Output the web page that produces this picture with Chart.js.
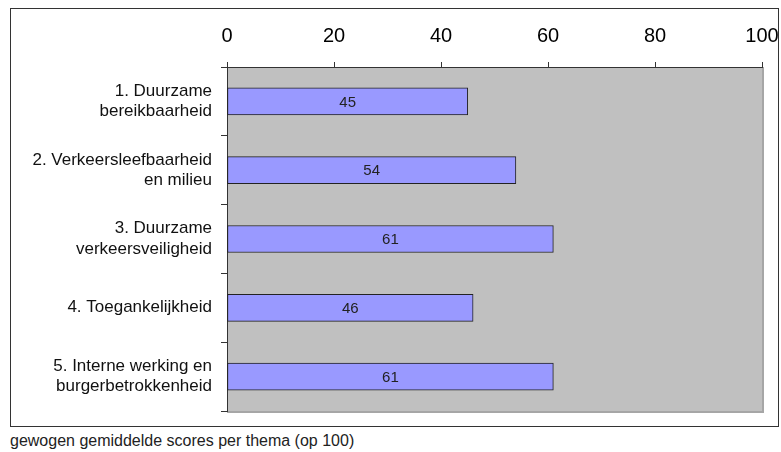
<!DOCTYPE html>
<html>
<head>
<meta charset="utf-8">
<script src="https://cdn.jsdelivr.net/npm/chart.js@4"></script>
<style>
  body { margin: 0; background: #fff; font-family: "Liberation Sans", Arial, sans-serif; }
  #box { position: absolute; left: 10px; top: 8px; width: 767px; height: 417px; border: 1px solid #333; }
  #wrap { position: absolute; left: 0; top: 0; width: 767px; height: 417px; }
  #caption { position: absolute; left: 10px; top: 432px; font-size: 16px; color: #222; white-space: nowrap; }
</style>
</head>
<body>
<div id="box"><div id="wrap"><canvas id="scores"></canvas></div></div>
<div id="caption">gewogen gemiddelde scores per thema (op 100)</div>
<script>
// gewogen gemiddelde scores per thema
var themes = [
  ["1. Duurzame", "bereikbaarheid"],
  ["2. Verkeersleefbaarheid", "en milieu"],
  ["3. Duurzame", "verkeersveiligheid"],
  ["4. Toegankelijkheid"],
  ["5. Interne werking en", "burgerbetrokkenheid"],
];
var scores = [45, 54, 61, 46, 61];
var xTicks = [0, 20, 40, 60, 80, 100];

// grijze achtergrond van het plotgebied
var plotBg = {
  id: "plotBg",
  beforeDraw: function (chart) {
    var a = chart.chartArea;
    var c = chart.ctx;
    c.save();
    c.fillStyle = "#c0c0c0";
    c.fillRect(a.left, a.top, a.right - a.left, a.bottom - a.top);
    c.strokeStyle = "#a6a6a6";
    c.lineWidth = 2;
    c.beginPath();
    c.moveTo(a.right + 1, a.top);
    c.lineTo(a.right + 1, a.bottom + 1);
    c.lineTo(a.left, a.bottom + 1);
    c.stroke();
    c.restore();
  },
};

// waarde in het midden van elke balk
var barLabels = {
  id: "barLabels",
  afterDatasetsDraw: function (chart) {
    var c = chart.ctx;
    c.save();
    c.font = "15px 'Liberation Sans', Arial, sans-serif";
    c.fillStyle = "#222";
    c.textAlign = "center";
    c.textBaseline = "middle";
    chart.getDatasetMeta(0).data.forEach(function (bar, i) {
      c.fillText(scores[i], (bar.x + bar.base) / 2, bar.y + 1);
    });
    c.restore();
  },
};

var ctx = document.getElementById("scores").getContext("2d");
var myChart = new Chart(ctx, {
  type: "bar",
  data: {
    labels: themes,
    datasets: [
      {
        data: scores,
        backgroundColor: "#9999ff",
        borderColor: "#222",
        borderWidth: 1,
        borderSkipped: false,
        barThickness: 27,
      },
    ],
  },
  options: {
    indexAxis: "y",
    responsive: true,
    maintainAspectRatio: false,
    animation: false,
    layout: { padding: { left: 0, top: 0, right: 16, bottom: 15 } },
    plugins: { legend: { display: false }, tooltip: { enabled: false } },
    scales: {
      x: {
        position: "top",
        min: 0,
        max: 100,
        afterBuildTicks: function (scale) {
          scale.ticks = xTicks.map(function (v) { return { value: v }; });
        },
        afterFit: function (scale) {
          scale.height = 58;
          scale.paddingLeft = 0;
          scale.paddingRight = 0;
        },
        grid: { drawOnChartArea: false, drawTicks: true, tickLength: 5, color: "#333" },
        border: { display: true, color: "#333", width: 1 },
        ticks: {
          color: "#000",
          padding: 14,
          font: { family: "'Liberation Sans', Arial, sans-serif", size: 20 },
        },
      },
      y: {
        afterFit: function (scale) {
          scale.width = 216;
          scale.paddingTop = 0;
          scale.paddingBottom = 0;
        },
        grid: { drawOnChartArea: false, drawTicks: true, tickLength: 6, color: "#333", offset: true },
        border: { display: true, color: "#333", width: 1 },
        ticks: {
          color: "#111",
          padding: 9,
          font: { family: "'Liberation Sans', Arial, sans-serif", size: 17, lineHeight: 1.2 },
        },
      },
    },
  },
  plugins: [plotBg, barLabels],
});
</script>
</body>
</html>
